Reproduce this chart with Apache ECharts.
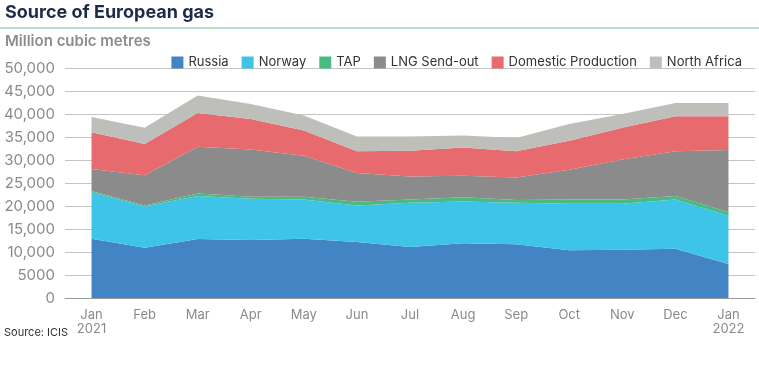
<!DOCTYPE html>
<html><head><meta charset="utf-8">
<script src="https://cdn.jsdelivr.net/npm/echarts@6/dist/echarts.min.js"></script>
<style>html,body{margin:0;padding:0;background:#fff}#c{width:759px;height:371px}</style>
</head><body><div id="c"></div>
<script>
const categories = ['Jan\n2021','Feb','Mar','Apr','May','Jun','Jul','Aug','Sep','Oct','Nov','Dec','Jan\n2022'];
const russia   = [12900,10900,12800,12600,12900,12200,11100,11900,11700,10400,10500,10700,7400];
const norway   = [10100, 9000, 9400, 9000, 8500, 7900, 9600, 9100, 9000,10100,10000,10700,10500];
const tap      = [  250,  200,  500,  400,  600,  800,  700,  900,  600,  900,  900,  800,  800];
const lng      = [ 4800, 6600,10200,10300, 8900, 6300, 5000, 4700, 4900, 6500, 8700, 9700,13500];
const domestic = [ 8000, 6800, 7300, 6600, 5500, 4700, 5600, 6100, 5700, 6300, 6900, 7600, 7300];
const northAfrica = [3300,3500, 3800, 3300, 3300, 3200, 3100, 2600, 2900, 3600, 3000, 2900, 2900];
const yTicks = [0,5000,10000,15000,20000,25000,30000,35000,40000,45000,50000];

const seriesDefs = [
  ['Russia', russia, '#4384c5'],
  ['Norway', norway, '#3ec4e9'],
  ['TAP', tap, '#48bb80'],
  ['LNG Send-out', lng, '#8a8b8a'],
  ['Domestic Production', domestic, '#e66a6e'],
  ['North Africa', northAfrica, '#bebebb']
];
const font = 'Inter, "Noto Sans", sans-serif';
const chart = echarts.init(document.getElementById('c'), null, {renderer:'canvas'});
chart.setOption({
  animation:false,
  textStyle:{fontFamily:font},
  graphic:[
    {type:'text', left:5, top:4, style:{text:'Source of European gas', font:'bold 18px '+font, fill:'#1d2b4a'}},
    {type:'rect', shape:{x:0,y:27,width:759,height:2}, style:{fill:'#b5dccf'}},
    {type:'text', left:5, top:34, style:{text:'Million cubic metres', font:'600 15px '+font, fill:'#8c8c8c'}},
    {type:'text', left:4, top:327, style:{text:'Source: ICIS', font:'11px '+font, fill:'#333'}}
  ],
  legend:{
    right:12, top:51, itemWidth:12, itemHeight:12, itemGap:13, icon:'rect',
    textStyle:{fontSize:13, color:'#333', fontFamily:font},
    data:seriesDefs.map(s=>s[0])
  },
  grid:{left:65, right:4, top:68, bottom:73},
  xAxis:{
    type:'category', data:categories, boundaryGap:true,
    axisLine:{show:true, lineStyle:{color:'#999'}},
    axisTick:{show:false},
    axisLabel:{color:'#8a8a8a', fontSize:13, lineHeight:14, margin:10, fontFamily:font}
  },
  yAxis:{
    type:'value', min:yTicks[0], max:yTicks[yTicks.length-1], interval:5000,
    axisLine:{show:false}, axisTick:{show:false},
    splitLine:{lineStyle:{color:'#c4c4c4'}},
    axisLabel:{color:'#8a8a8a', fontSize:15, margin:10, fontFamily:font,
      formatter:v=> v>=10000 ? v.toLocaleString('en-US') : String(v)}
  },
  series: seriesDefs.map(s=>({
    name:s[0], type:'line', stack:'total', data:s[1], symbol:'none',
    lineStyle:{width:0}, itemStyle:{color:s[2]}, areaStyle:{color:s[2], opacity:1},
    emphasis:{disabled:true}
  }))
});
</script></body></html>
